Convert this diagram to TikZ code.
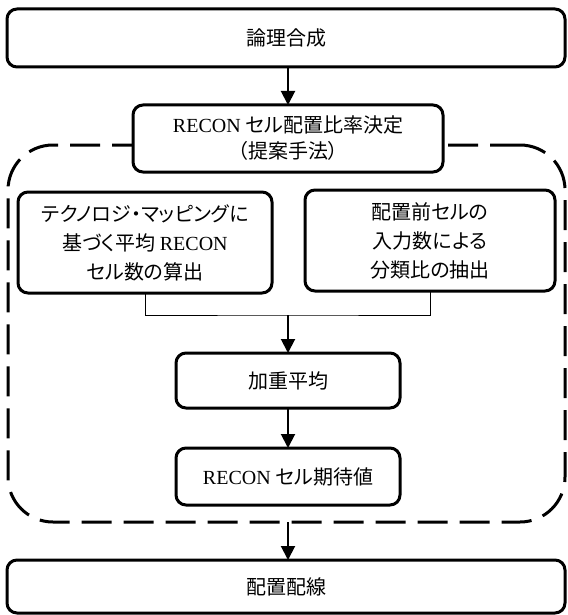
\documentclass[tikz,border=0pt]{standalone}
\usepackage{fontspec}
\setmainfont[RawFeature=+palt]{Noto Sans CJK JP}
\newfontfamily\tnr{Liberation Serif}
\usetikzlibrary{arrows.meta,calc}
\begin{document}
\begin{tikzpicture}[x=1pt,y=-1pt,
  box/.style={draw, line width=3pt, rounded corners=10pt, fill=white, align=center,
    inner sep=0pt, outer sep=0pt, font=\fontsize{20}{29}\selectfont},
  arr/.style={line width=2pt, -{Triangle[length=14pt,width=14pt]}},
  branch/.style={line width=1pt},
  grpbox/.style={draw, line width=3pt, dash pattern=on 30pt off 12pt, rounded corners=45pt,
    inner sep=0pt, outer sep=0pt}]
\useasboundingbox (0,0) rectangle (567,615);
\node[grpbox, minimum width=557pt, minimum height=377pt] (grp) at (286.5,333.5) {};
\node[box, minimum width=558pt, minimum height=58pt] (top) at (286,38) {論理合成};
\node[box, minimum width=310pt, minimum height=67pt, font=\fontsize{20}{26}\selectfont] (rc) at (288,138.5) {{\tnr RECON} セル配置比率決定\\（提案手法）};
\node[box, minimum width=254pt, minimum height=101pt] (lt) at (145,242.5) {テクノロジ・マッピングに\\基づく平均 {\tnr RECON}\\セル数の算出};
\node[box, minimum width=250pt, minimum height=101pt] (rt) at (430,240.5) {配置前セルの\\入力数による\\分類比の抽出};
\node[box, minimum width=224pt, minimum height=55pt] (kj) at (288,380.5) {加重平均};
\node[box, minimum width=224pt, minimum height=57pt] (ex) at (288,476.5) {{\tnr RECON} セル期待値};
\node[box, minimum width=558pt, minimum height=53pt] (bt) at (286,586.5) {配置配線};
\coordinate (j) at (288,315);
\draw[branch] (lt.south) |- (j) -| (rt.south);
\draw[arr] (top.south -| rc.north) -- (rc.north);
\draw[arr] (j) -- (kj.north);
\draw[arr] (kj.south) -- (ex.north);
\draw[arr] (grp.south -| ex.south) -- (bt.north -| ex.south);
\end{tikzpicture}
\end{document}
